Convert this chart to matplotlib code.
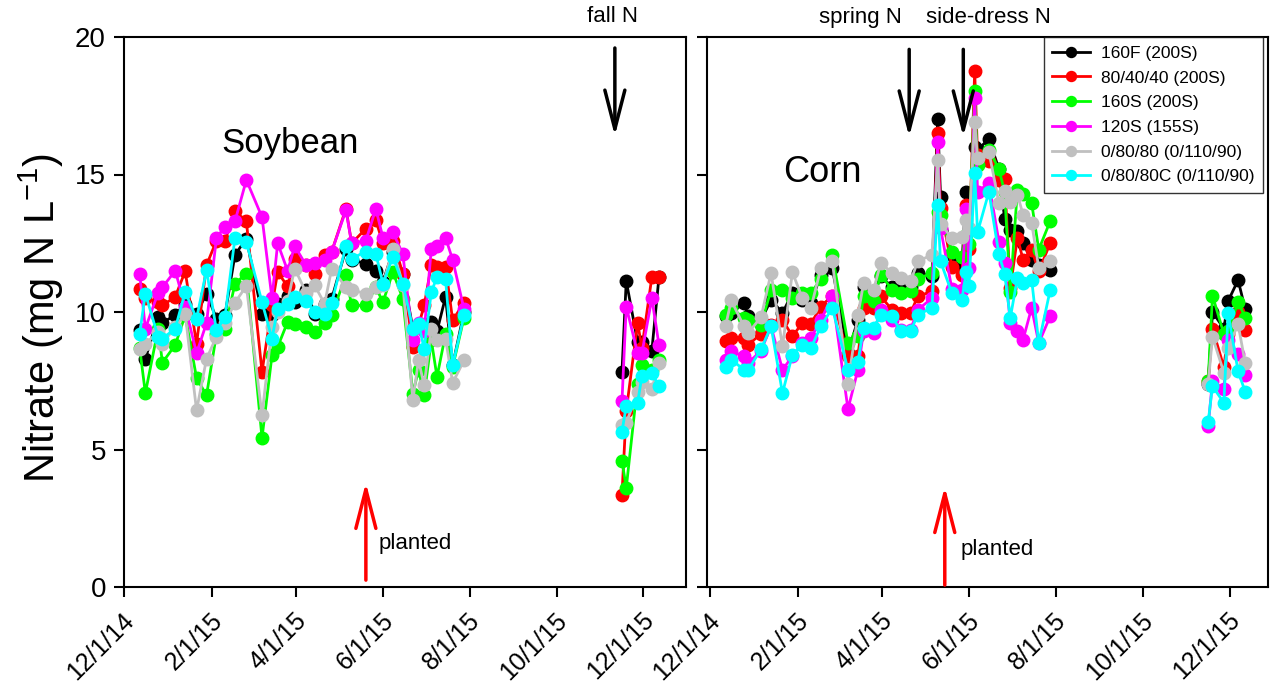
import matplotlib
matplotlib.use('Agg')
import matplotlib.pyplot as plt
import matplotlib.transforms as mtransforms
import numpy as np
import pandas as pd

plt.rcParams['font.family'] = ['Liberation Sans', 'DejaVu Sans']
plt.rcParams['mathtext.fontset'] = 'custom'
plt.rcParams['mathtext.rm'] = 'Liberation Sans'
plt.rcParams['mathtext.it'] = 'Liberation Sans:italic'
plt.rcParams['mathtext.bf'] = 'Liberation Sans:bold'

# ---------------- data ----------------
series_labels = ['160F (200S)', '80/40/40 (200S)', '160S (200S)', '120S (155S)',
                 '0/80/80 (0/110/90)', '0/80/80C (0/110/90)']
series_colors = ['#000000', '#ff0000', '#00ff00', '#ff00ff', '#c0c0c0', '#00ffff']

soy_dates = ['2014-12-12', '2014-12-16', '2014-12-25', '2014-12-28', '2015-01-06', '2015-01-13',
             '2015-01-21', '2015-01-28', '2015-02-04', '2015-02-10', '2015-02-17', '2015-02-25',
             '2015-03-08', '2015-03-15', '2015-03-19', '2015-03-26', '2015-03-31', '2015-04-08',
             '2015-04-14', '2015-04-21', '2015-04-26', '2015-05-06', '2015-05-10', '2015-05-20',
             '2015-05-27', '2015-06-01', '2015-06-08', '2015-06-15', '2015-06-22', '2015-06-26',
             '2015-06-30', '2015-07-05', '2015-07-09', '2015-07-15', '2015-07-20', '2015-07-28',
             '2015-11-16', '2015-11-19', '2015-11-27', '2015-11-30', '2015-12-07', '2015-12-12']

soy_160F = [9.33, 8.3, 9.82, 9.6, 9.9, 10.3, 9.94, 10.67, 9.76, 9.9, 12.08, 12.67,
            9.94, 9.9, 10.3, 10.6, 10.36, 10.8, 9.94, 10.3, 10.48, 12.3, 11.9, 11.76,
            11.5, 11.1, 12.2, 11.4, 9.4, 9.5, 9.4, 9.64, 9.3, 10.55, 8.06, 10.0,
            7.83, 11.13, 8.9, 8.9, 8.6, 11.27]
soy_804040 = [10.85, 10.5, 10.36, 10.24, 10.55, 11.48, 8.85, 11.7, 12.6, 12.6, 13.67, 13.3,
              7.82, 10.24, 11.45, 10.93, 11.94, 11.7, 11.4, 12.06, 12.2, 13.76, 12.5, 13.03,
              13.33, 12.5, 12.6, 11.4, 8.73, 9.5, 10.24, 11.7, 11.64, 11.64, 9.7, 10.34,
              3.35, 6.4, 9.6, 8.7, 11.27, 11.27]
soy_160S = [8.7, 7.05, 9.39, 8.16, 8.8, 9.88, 7.6, 6.97, 9.2, 9.39, 11.03, 11.4,
            5.42, 8.42, 8.73, 9.64, 9.58, 9.45, 9.27, 9.6, 9.9, 11.33, 10.24, 10.24,
            10.9, 10.36, 11.45, 10.48, 7.03, 7.9, 6.97, 8.97, 7.64, 9.2, 8.0, 9.8,
            4.6, 3.6, 7.4, 8.07, 7.9, 8.25]
soy_120S = [11.4, 9.4, 10.7, 10.9, 11.5, 10.2, 8.5, 9.6, 12.7, 13.1, 13.3, 14.8,
            13.45, 10.5, 12.5, 11.5, 12.4, 11.7, 11.8, 11.9, 12.2, 13.7, 12.5, 12.6,
            13.75, 12.7, 12.9, 12.1, 9.0, 9.6, 9.3, 12.3, 12.4, 12.7, 11.9, 10.1,
            6.75, 10.2, 8.5, 8.5, 10.5, 8.8]
soy_08080 = [8.64, 8.85, 9.27, 8.85, 9.45, 9.94, 6.42, 8.3, 9.1, 9.6, 10.34, 10.95,
             6.24, 9.45, 10.0, 10.4, 11.58, 10.7, 10.97, 10.3, 11.58, 10.9, 10.8, 10.67,
             10.9, 11.0, 12.3, 11.0, 6.79, 8.24, 7.33, 9.4, 8.97, 9.03, 7.43, 8.24,
             5.9, 5.96, 7.1, 7.47, 7.2, 8.16]
soy_08080C = [9.2, 10.67, 9.1, 9.03, 9.4, 10.73, 9.76, 11.52, 9.33, 9.82, 12.7, 12.55,
              10.36, 9.03, 10.12, 10.3, 10.55, 10.4, 10.0, 9.94, 10.34, 12.4, 11.94, 12.2,
              12.12, 11.03, 12.0, 11.03, 9.4, 9.58, 8.67, 10.73, 11.27, 11.2, 8.06, 9.88,
              5.65, 6.58, 6.7, 7.67, 7.78, 7.31]

corn_dates = ['2014-12-12', '2014-12-16', '2014-12-25', '2014-12-28', '2015-01-06', '2015-01-13',
              '2015-01-21', '2015-01-28', '2015-02-04', '2015-02-10', '2015-02-17', '2015-02-25',
              '2015-03-08', '2015-03-15', '2015-03-19', '2015-03-26', '2015-03-31', '2015-04-08',
              '2015-04-14', '2015-04-21', '2015-04-26', '2015-05-06', '2015-05-10', '2015-05-12',
              '2015-05-20', '2015-05-27', '2015-05-30', '2015-06-01', '2015-06-05', '2015-06-07',
              '2015-06-15', '2015-06-22', '2015-06-26', '2015-06-30', '2015-07-05', '2015-07-09',
              '2015-07-15', '2015-07-20', '2015-07-28',
              '2015-11-16', '2015-11-19', '2015-11-27', '2015-11-30', '2015-12-07', '2015-12-12']

corn_160F = [9.84, 9.96, 10.33, 9.84, 9.7, 10.45, 9.96, 10.69, 10.45, 10.33, 11.36, 11.6,
             8.51, 9.72, 10.9, 10.6, 11.3, 10.9, 11.0, 10.9, 11.42, 11.3, 17.02, 14.2,
             12.08, 11.7, 14.37, 13.0, 16.0, 15.9, 16.29, 15.2, 13.4, 13.0, 12.93, 12.5,
             11.9, 11.7, 11.54,
             7.4, 10.0, 9.4, 10.4, 11.16, 10.1]
corn_804040 = [8.93, 9.05, 9.05, 8.81, 9.21, 9.54, 9.72, 9.12, 9.6, 9.58, 10.2, 10.6,
               8.39, 8.39, 10.15, 10.15, 10.57, 10.08, 9.96, 9.96, 10.57, 10.75, 16.5, 13.8,
               11.64, 11.35, 13.89, 12.3, 18.76, 15.7, 15.5, 14.8, 14.85, 10.87, 12.7, 11.9,
               12.27, 11.48, 12.5,
               7.5, 9.4, 8.0, 9.2, 10.0, 9.33]
corn_160S = [9.9, 10.15, 9.78, 9.72, 9.54, 10.81, 10.79, 10.5, 10.69, 10.69, 11.2, 12.08,
             8.87, 9.12, 10.6, 10.39, 11.36, 10.81, 10.69, 10.75, 11.2, 11.42, 13.65, 13.54,
             12.17, 12.0, 12.8, 12.49, 18.03, 15.35, 15.9, 15.2, 14.37, 10.74, 14.45, 14.3,
             13.96, 12.27, 13.3,
             7.5, 10.6, 9.2, 9.3, 10.37, 9.8]
corn_120S = [8.27, 8.57, 8.39, 8.15, 8.6, 9.48, 7.9, 8.39, 8.87, 9.05, 9.72, 10.57,
             6.47, 7.9, 9.3, 9.24, 10.08, 9.72, 9.36, 9.36, 10.08, 10.5, 16.2, 13.05,
             10.84, 10.8, 13.74, 11.6, 17.79, 14.38, 14.68, 12.56, 11.8, 9.6, 9.3, 9.0,
             10.15, 8.87, 9.84,
             5.85, 7.5, 7.2, 9.0, 8.47, 7.7]
corn_08080 = [9.48, 10.42, 9.48, 9.24, 9.82, 11.42, 8.75, 11.44, 10.5, 10.15, 11.6, 11.84,
              7.39, 9.9, 11.05, 10.81, 11.78, 11.42, 11.24, 11.12, 11.84, 12.08, 15.54, 13.2,
              12.7, 12.74, 13.35, 13.04, 16.92, 15.6, 15.83, 13.96, 14.39, 14.0, 14.27, 13.54,
              13.24, 11.6, 11.84,
              7.4, 9.1, 7.8, 8.7, 9.56, 8.13]
corn_08080C = [8.0, 8.27, 7.9, 7.9, 8.65, 9.48, 7.05, 8.45, 8.81, 8.69, 9.48, 10.15,
               7.9, 8.2, 9.42, 9.42, 9.9, 9.84, 9.3, 9.3, 9.9, 10.15, 13.9, 11.84,
               10.69, 10.44, 11.46, 10.95, 15.05, 12.9, 14.37, 12.1, 11.4, 9.78, 11.24, 11.05,
               11.18, 8.87, 10.79,
               6.0, 7.3, 6.7, 9.95, 7.84, 7.1]

xtick_dates = ['2014-12-01', '2015-02-01', '2015-04-01', '2015-06-01',
               '2015-08-01', '2015-10-01', '2015-12-01']
xtick_labels = ['12/1/14', '2/1/15', '4/1/15', '6/1/15', '8/1/15', '10/1/15', '12/1/15']
ytick_values = [0, 5, 10, 15, 20]

soy_series = [soy_160F, soy_804040, soy_160S, soy_120S, soy_08080, soy_08080C]
corn_series = [corn_160F, corn_804040, corn_160S, corn_120S, corn_08080, corn_08080C]

# ---------------- figure ----------------
W, H = 1275, 698
fig = plt.figure(figsize=(W / 100, H / 100), dpi=100)
axL = fig.add_axes([124 / W, 111 / H, 562 / W, 550 / H])
axR = fig.add_axes([707 / W, 111 / H, 561 / W, 550 / H])

T = pd.Timestamp


def draw(ax, dates, series):
    d = pd.to_datetime(dates)
    gaps = np.where(np.diff(d.values).astype('timedelta64[D]').astype(int) > 60)[0]
    segs = np.split(np.arange(len(d)), gaps + 1)
    for vals, color, label in zip(series, series_colors, series_labels):
        v = np.asarray(vals, dtype=float)
        for k, idx in enumerate(segs):
            ax.plot(d[idx], v[idx], '-o', color=color, lw=2.0, ms=9, mec=color,
                    label=label if k == 0 else None)


draw(axL, soy_dates, soy_series)
draw(axR, corn_dates, corn_series)

axL.set_xlim(T('2014-12-01'), T('2015-12-31'))
axR.set_xlim(T('2014-11-29'), T('2015-12-28'))

for ax in (axL, axR):
    ax.set_ylim(0, 20)
    ax.set_yticks(ytick_values)
    ax.set_xticks(pd.to_datetime(xtick_dates))
    ax.tick_params(direction='out', length=7, width=1.5, pad=6)
    ax.set_xticklabels(xtick_labels, rotation=45, ha='right', va='top', fontsize=18)
    for s in ax.spines.values():
        s.set_linewidth(1.5)
axL.tick_params(axis='y', labelsize=20)
axR.tick_params(axis='y', labelleft=False)

offset = mtransforms.ScaledTranslation(15 / 100, -3 / 100, fig.dpi_scale_trans)
for ax in (axL, axR):
    for lbl in ax.xaxis.get_majorticklabels():
        lbl.set_transform(lbl.get_transform() + offset)

axL.set_ylabel('Nitrate (mg N L$^{-1}$)', fontsize=30)
axL.yaxis.set_label_coords(-0.104, 0.49)

axL.text(0.295, 0.807, 'Soybean', transform=axL.transAxes, fontsize=25, ha='center', va='center')
axR.text(0.205, 0.753, 'Corn', transform=axR.transAxes, fontsize=26, ha='center', va='center')

arrow_style = '->,head_length=1.4,head_width=0.36'


def arrow(ax, date, y0, y1, color):
    ax.annotate('', xy=(T(date), y1), xytext=(T(date), y0),
                arrowprops=dict(arrowstyle=arrow_style, color=color, lw=2.5,
                                mutation_scale=20, shrinkA=0, shrinkB=0),
                annotation_clip=False)


arrow(axL, '2015-05-20', 0.25, 3.8, 'red')
axL.text(T('2015-05-29'), 1.6, 'planted', fontsize=16, ha='left', va='center')
arrow(axR, '2015-05-15', 0.07, 3.65, 'red')
axR.text(T('2015-05-26'), 1.38, 'planted', fontsize=16, ha='left', va='center')

arrow(axL, '2015-11-11', 19.6, 16.4, 'black')
axL.text(T('2015-11-09'), 20.75, 'fall N', fontsize=16, ha='center', va='center', clip_on=False)
arrow(axR, '2015-04-20', 19.55, 16.37, 'black')
axR.text(T('2015-03-17'), 20.7, 'spring N', fontsize=16, ha='center', va='center', clip_on=False)
arrow(axR, '2015-05-28', 19.55, 16.37, 'black')
axR.text(T('2015-06-15'), 20.7, 'side-dress N', fontsize=16, ha='center', va='center', clip_on=False)

leg = axR.legend(loc='upper right', bbox_to_anchor=(1 - 5 / 561, 1.0), borderaxespad=0,
                 frameon=True, fancybox=False, edgecolor='black', fontsize=12.5,
                 handlelength=2.2, labelspacing=0.55, borderpad=0.5, handletextpad=0.6,
                 markerscale=0.8)
leg.get_frame().set_linewidth(1.0)

fig.savefig('out.png', dpi=100)
